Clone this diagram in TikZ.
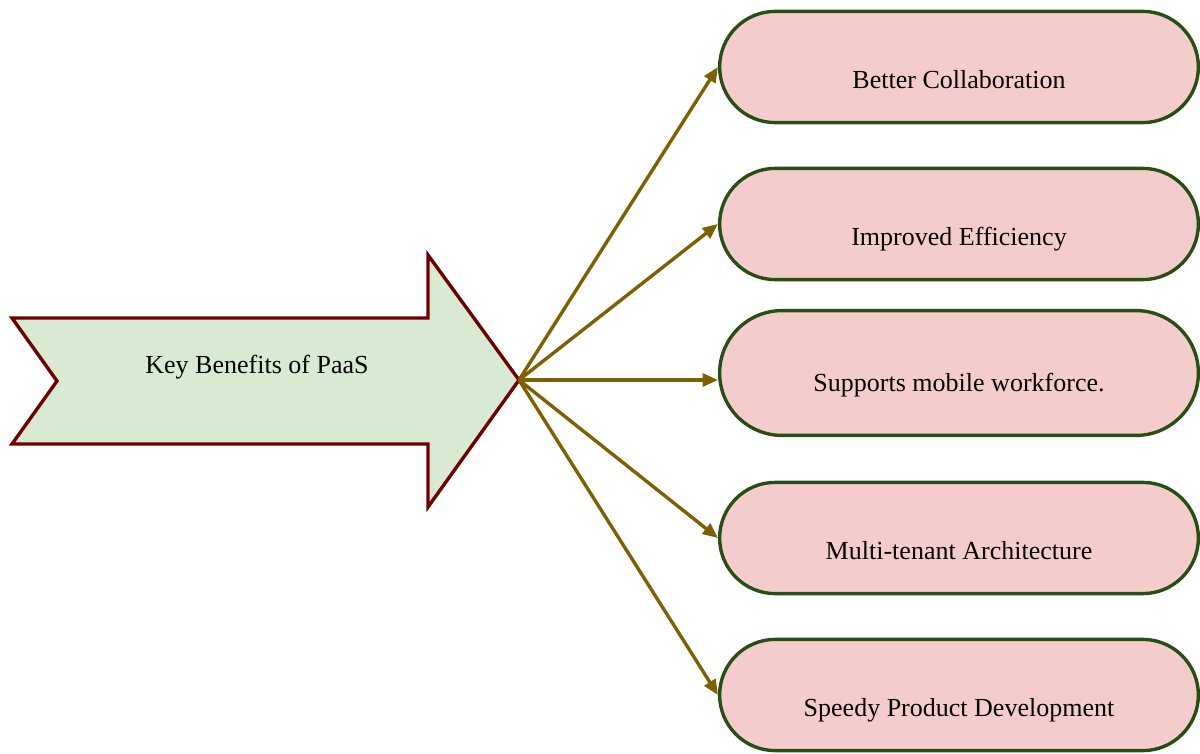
\documentclass[tikz,border=0pt]{standalone}
\usepackage{fontspec}
\setmainfont{Liberation Serif}
\usetikzlibrary{positioning, arrows.meta, shapes.misc}

\begin{document}
\begin{tikzpicture}[
        % one unit = one pixel of the layout, y pointing down
        x=0.025cm, y=-0.025cm,
        >={Triangle[length=0.38cm, width=0.32cm]},
        font=\fontsize{18.5}{22}\selectfont
    ]
        % Define custom colors
        \definecolor{keyfill}{RGB}{217,234,211}
        \definecolor{keyborder}{RGB}{112,0,0}
        \definecolor{benefitfill}{RGB}{244,204,204}
        \definecolor{benefitborder}{RGB}{39,78,19}
        \definecolor{linkcolor}{RGB}{127,96,0}

        % Define node styles
        \tikzstyle{benefit}=[
            draw=benefitborder,
            fill=benefitfill,
            line width=2.4pt,
            rounded rectangle,
            minimum width=12.2cm,
            minimum height=2.78cm,
            text height=1.15cm,
            text depth=0.1cm
        ]
        \tikzstyle{link}=[->, linkcolor, line width=2.4pt]

        \useasboundingbox (0,0) rectangle (1200,754);

        % --- Big arrow (left) ---
        \draw[draw=keyborder, fill=keyfill, line width=2.4pt, line join=miter]
            (12,318) -- (428,318) -- (428,255) -- (519,380) -- (428,507)
            -- (428,444) -- (12,444) -- (57,381) -- cycle;
        \node (key) at (257,367) {Key Benefits of PaaS};
        \coordinate (tip) at (519,380);

        % --- Benefits (right column) ---
        \node[benefit] (collab) at (959,67) {Better Collaboration};
        \node[benefit] (efficiency) at (959,224) {Improved Efficiency};
        \node[benefit, minimum height=3.12cm, text height=1.0cm] (mobile) at (959,373) {Supports mobile workforce.};
        \node[benefit] (tenant) at (959,538) {Multi-tenant Architecture};
        \node[benefit] (speedy) at (959,695) {Speedy Product Development};

        % --- Connections ---
        \draw[link] (tip) -- (collab.west);
        \draw[link] (tip) -- (efficiency.west);
        \draw[link] (tip) -- (tip -| mobile.west);
        \draw[link] (tip) -- (tenant.west);
        \draw[link] (tip) -- (speedy.west);

    \end{tikzpicture}
\end{document}
